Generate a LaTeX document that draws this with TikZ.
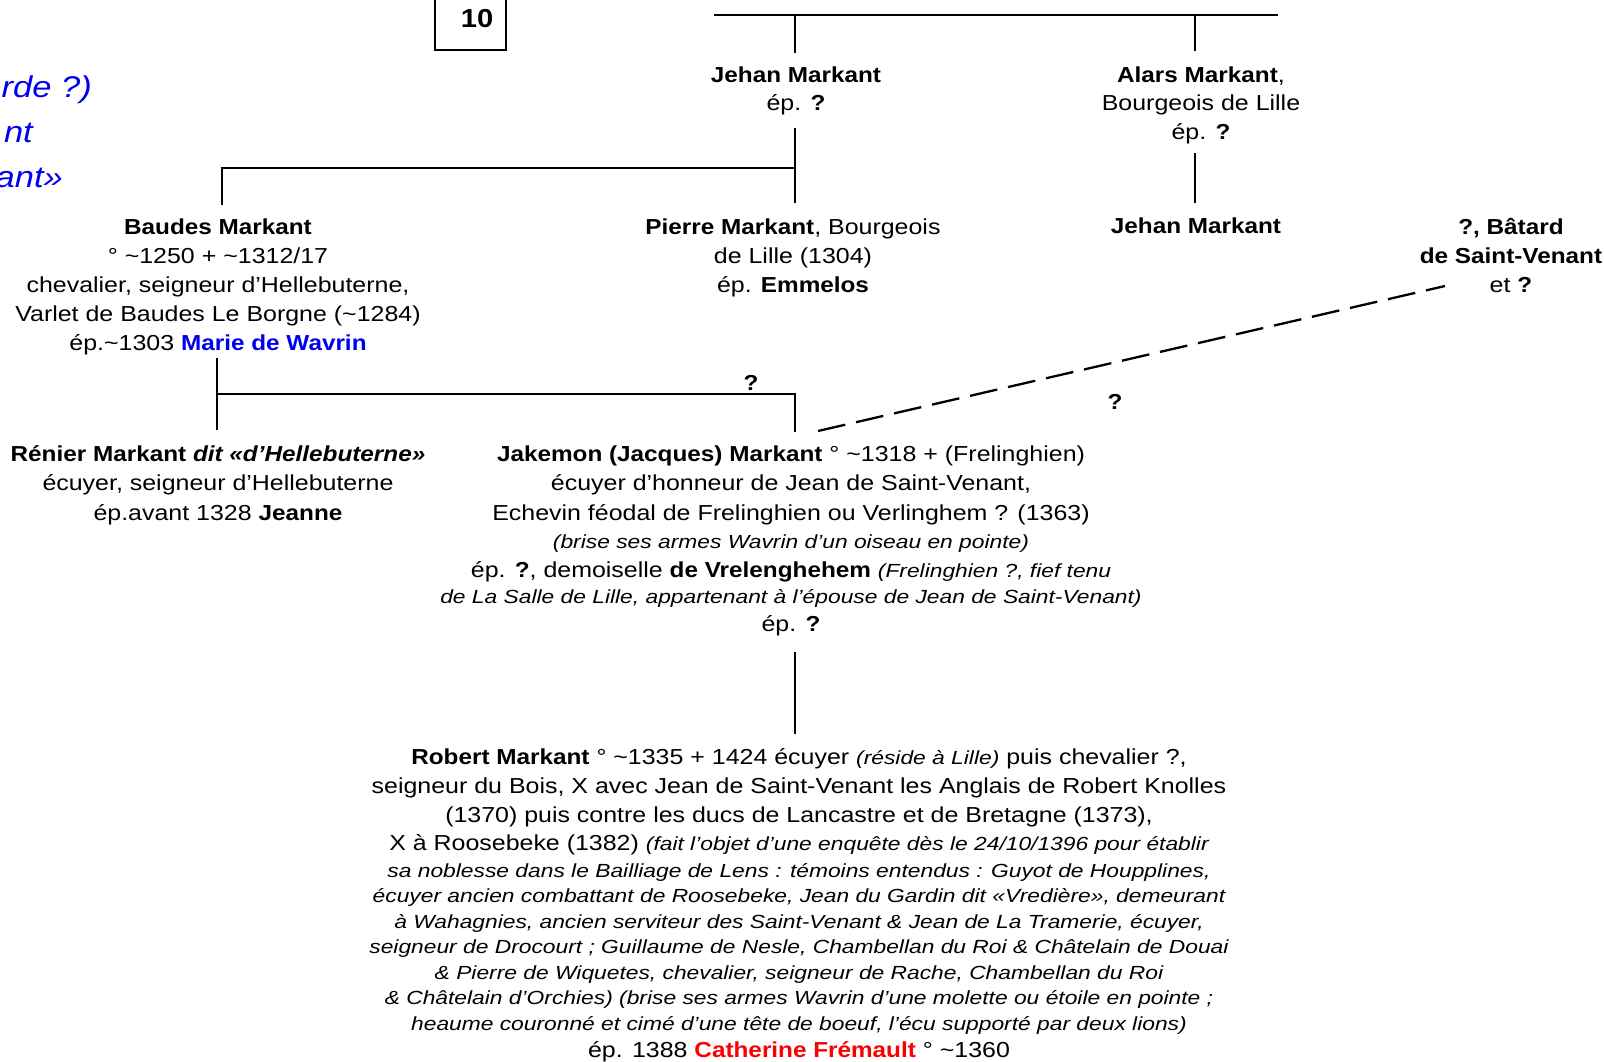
\documentclass[tikz,border=0pt]{standalone}
\usepackage{fontspec}
\setmainfont{Liberation Sans}[FakeStretch=1.15, BoldFeatures={FakeStretch=1.12}, BoldItalicFeatures={FakeStretch=1.12}]
\newfontfamily\smallitfam{Liberation Sans}[FakeStretch=1.2]
\newcommand{\mainsz}{\fontsize{21.7}{29}\selectfont}
\newcommand{\smit}[1]{{\smallitfam\itshape\fontsize{19}{25}\selectfont #1}}
\definecolor{mblue}{RGB}{0,0,240}
\definecolor{mred}{RGB}{250,0,0}
\tikzset{
  txt/.style={anchor=base, inner sep=0pt, font=\mainsz},
  link/.style={line width=2pt},
  toplink/.style={line width=2.8pt},
  dashlink/.style={line width=2.3pt, dash pattern=on 28pt off 11pt},
}
\begin{document}
\begin{tikzpicture}[x=1pt,y=-1pt]
\useasboundingbox (0,0) rectangle (1604,1061);
\fill[white] (0,0) rectangle (1604,1061);

% box 10
\node[draw, line width=1.2pt, minimum width=71pt, minimum height=60pt, inner sep=0pt] (box10) at (470.5,20) {};
\node[anchor=base, inner sep=0pt, font=\fontsize{26}{30}\selectfont\bfseries] (n10) at (477,27) {10};

% left partial blue text
\node[anchor=base east, inner sep=0pt, text=mblue, font=\fontsize{30}{44}\selectfont\itshape] (lb1) at (92,97) {rde ?)};
\node[anchor=base east, inner sep=0pt, text=mblue, font=\fontsize{30}{44}\selectfont\itshape] (lb2) at (33,142) {nt};
\node[anchor=base east, inner sep=0pt, text=mblue, font=\fontsize{30}{44}\selectfont\itshape] (lb3) at (63,187) {ant»};

% generation 1
\node[txt] (j1a) at (796,82) {\textbf{Jehan Markant}};
\node[txt] (j1b) at (796,110) {ép. \textbf{?}};
\node[txt] (ala) at (1201,82) {\textbf{Alars Markant},};
\node[txt] (alb) at (1201,110) {Bourgeois de Lille};
\node[txt] (alc) at (1201,139) {ép. \textbf{?}};

% generation 2
\node[txt] (ba1) at (218,234) {\textbf{Baudes Markant}};
\node[txt] (ba2) at (218,263) {° \textasciitilde1250 + \textasciitilde1312/17};
\node[txt] (ba3) at (218,292) {chevalier, seigneur d’Hellebuterne,};
\node[txt] (ba4) at (218,321) {Varlet de Baudes Le Borgne (\textasciitilde1284)};
\node[txt] (ba5) at (218,350) {ép.\textasciitilde1303 \textcolor{mblue}{\textbf{Marie de Wavrin}}};

\node[txt] (pi1) at (793,234) {\textbf{Pierre Markant}, Bourgeois};
\node[txt] (pi2) at (793,263) {de Lille (1304)};
\node[txt] (pi3) at (793,292) {ép. \textbf{Emmelos}};

\node[txt] (j2) at (1196,233) {\textbf{Jehan Markant}};

\node[txt] (bt1) at (1511,234) {\textbf{?, Bâtard}};
\node[txt] (bt2) at (1511,263) {\textbf{de Saint-Venant}};
\node[txt] (bt3) at (1511,292) {et \textbf{?}};

% generation 3
\node[txt] (re1) at (218,461) {\textbf{Rénier Markant \textit{dit «d’Hellebuterne»}}};
\node[txt] (re2) at (218,490) {écuyer, seigneur d’Hellebuterne};
\node[txt] (re3) at (218,520) {ép.avant 1328 \textbf{Jeanne}};

\node[txt] (ja1) at (791,461) {\textbf{Jakemon (Jacques) Markant} ° \textasciitilde1318 + (Frelinghien)};
\node[txt] (ja2) at (791,490) {écuyer d’honneur de Jean de Saint-Venant,};
\node[txt] (ja3) at (791,520) {Echevin féodal de Frelinghien ou Verlinghem ? (1363)};
\node[txt] (ja4) at (791,548) {\smit{(brise ses armes Wavrin d’un oiseau en pointe)}};
\node[txt] (ja5) at (791,577) {ép. \textbf{?}, demoiselle \textbf{de Vrelenghehem} \smit{(Frelinghien ?, fief tenu}};
\node[txt] (ja6) at (791,603) {\smit{de La Salle de Lille, appartenant à l’épouse de Jean de Saint-Venant)}};
\node[txt] (ja7) at (791,631) {ép. \textbf{?}};

\node[txt] (q1) at (751,390) {\textbf{?}};
\node[txt] (q2) at (1115,409) {\textbf{?}};

% generation 4
\node[txt] (ro1) at (799,764) {\textbf{Robert Markant} ° \textasciitilde1335 + 1424 écuyer \smit{(réside à Lille)} puis chevalier ?,};
\node[txt] (ro2) at (799,793) {seigneur du Bois, X avec Jean de Saint-Venant les Anglais de Robert Knolles};
\node[txt] (ro3) at (799,822) {(1370) puis contre les ducs de Lancastre et de Bretagne (1373),};
\node[txt] (ro4) at (799,850) {X à Roosebeke (1382) \smit{(fait l’objet d’une enquête dès le 24/10/1396 pour établir}};
\node[txt] (ro5) at (799,877) {\smit{sa noblesse dans le Bailliage de Lens : témoins entendus : Guyot de Houpplines,}};
\node[txt] (ro6) at (799,902) {\smit{écuyer ancien combattant de Roosebeke, Jean du Gardin dit «Vredière», demeurant}};
\node[txt] (ro7) at (799,928) {\smit{à Wahagnies, ancien serviteur des Saint-Venant \& Jean de La Tramerie, écuyer,}};
\node[txt] (ro8) at (799,953) {\smit{seigneur de Drocourt ; Guillaume de Nesle, Chambellan du Roi \& Châtelain de Douai}};
\node[txt] (ro9) at (799,979) {\smit{\& Pierre de Wiquetes, chevalier, seigneur de Rache, Chambellan du Roi}};
\node[txt] (ro10) at (799,1004) {\smit{\& Châtelain d’Orchies) (brise ses armes Wavrin d’une molette ou étoile en pointe ;}};
\node[txt] (ro11) at (799,1030) {\smit{heaume couronné et cimé d’une tête de boeuf, l’écu supporté par deux lions)}};
\node[txt] (ro12) at (799,1057) {ép. 1388 \textcolor{mred}{\textbf{Catherine Frémault}} ° \textasciitilde1360};

% connector coordinates
\coordinate (topL) at (714,15);
\coordinate (topR) at (1278,15);
\coordinate (topJ) at (795,15);
\coordinate (topA) at (1195,15);
\coordinate (j1top) at (795,53);
\coordinate (altop) at (1195,51);
\coordinate (j1bot) at (795,128);
\coordinate (sib1) at (795,168);
\coordinate (pitop) at (795,203);
\coordinate (batop) at (222,205);
\coordinate (bacorner) at (222,168);
\coordinate (albot) at (1195,153);
\coordinate (j2top) at (1195,203);
\coordinate (babot) at (217,358);
\coordinate (sib2) at (217,394);
\coordinate (retop) at (217,430);
\coordinate (jacorner) at (795,394);
\coordinate (jatop) at (795,432);
\coordinate (dashA) at (818,431);
\coordinate (dashB) at (1445,286);
\coordinate (jabot) at (795,652);
\coordinate (rotop) at (795,734);

\draw[toplink] (topL) -- (topR);
\draw[link] (topJ) -- (j1top);
\draw[link] (topA) -- (altop);
\draw[link] (j1bot) -- (pitop);
\draw[link] (batop) -- (bacorner) -- (sib1);
\draw[link] (albot) -- (j2top);
\draw[link] (babot) -- (retop);
\draw[link] (sib2) -- (jacorner) -- (jatop);
\draw[dashlink] (dashA) -- (dashB);
\draw[link] (jabot) -- (rotop);
\end{tikzpicture}
\end{document}
